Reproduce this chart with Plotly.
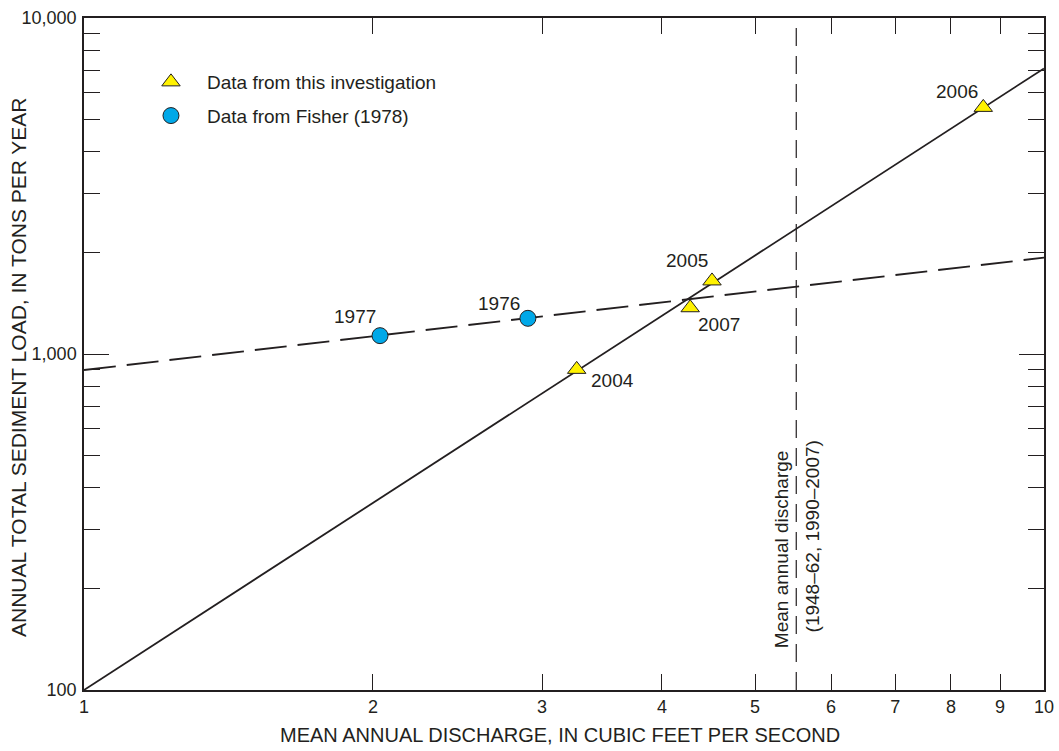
import numpy as np
import plotly.graph_objects as go

FONT = "Liberation Sans, Arial, sans-serif"
INK = "#231f20"

# Data from this investigation (triangles)
inv_years = ["2004", "2005", "2006", "2007"]
inv_q = [3.26, 4.51, 8.645, 4.28]
inv_load = [900, 1650, 5420, 1373]

# Data from Fisher (1978) (circles)
fis_years = ["1977", "1976"]
fis_q = [2.034, 2.90]
fis_load = [1134, 1277]

# Regression lines (endpoints)
solid_q = [1, 10]
solid_load = [100, 7080]
dashed_q = [1, 10]
dashed_load = [896, 1936]

# Mean annual discharge
mean_q = 5.52
y_range_vals = [100, 10000]
mean_text_lines = ["Mean annual discharge", "(1948–62, 1990–2007)"]
mean_text_y = [263, 287]

x_ticks = [1, 2, 3, 4, 5, 6, 7, 8, 9, 10]
y_major = [100, 1000, 10000]
y_major_text = ["100", "1,000", "10,000"]
y_minor = [200, 300, 400, 500, 600, 700, 800, 900,
           2000, 3000, 4000, 5000, 6000, 7000, 8000, 9000]

# label offsets (pixels) for year labels
inv_shift = [(36, -11), (-25, 20), (-26, 16), (29, -17)]
fis_shift = [(-25, 19), (-29, 15)]

fig = go.Figure()

fig.add_trace(go.Scatter(x=solid_q, y=solid_load, mode="lines",
                         line=dict(color=INK, width=1.8), showlegend=False, hoverinfo="skip"))
fig.add_trace(go.Scatter(x=dashed_q, y=dashed_load, mode="lines",
                         line=dict(color=INK, width=1.8, dash="32px,11px"), showlegend=False, hoverinfo="skip"))
fig.add_trace(go.Scatter(x=[mean_q, mean_q], y=y_range_vals, mode="lines",
                         line=dict(color=INK, width=1.2, dash="18px,10px"), showlegend=False, hoverinfo="skip"))

fig.add_trace(go.Scatter(x=inv_q, y=inv_load, mode="markers", name="Data from this investigation",
                         legendgroup="a",
                         marker=dict(symbol="triangle-up", size=16, color="#fff200",
                                     line=dict(color=INK, width=1))))
fig.add_trace(go.Scatter(x=fis_q, y=fis_load, mode="markers", name="Data from Fisher (1978)",
                         legendgroup="b",
                         marker=dict(symbol="circle", size=16, color="#00a8e8",
                                     line=dict(color=INK, width=1))))

lab_font = dict(family=FONT, size=19, color=INK)
for yr, q, ld, (dx, dy) in zip(inv_years, inv_q, inv_load, inv_shift):
    fig.add_annotation(x=np.log10(q), y=np.log10(ld), xref="x", yref="y", text=yr, showarrow=False,
                       xshift=dx, yshift=dy, font=lab_font)
for yr, q, ld, (dx, dy) in zip(fis_years, fis_q, fis_load, fis_shift):
    fig.add_annotation(x=np.log10(q), y=np.log10(ld), xref="x", yref="y", text=yr, showarrow=False,
                       xshift=dx, yshift=dy, font=lab_font)

for txt, yv, dx in zip(mean_text_lines, mean_text_y, [-14, 16]):
    fig.add_annotation(x=np.log10(mean_q), y=np.log10(yv), xref="x", yref="y", text=txt,
                       showarrow=False, textangle=-90, xshift=dx, font=lab_font)

fig.add_annotation(x=0.5, y=0, xref="paper", yref="paper", yanchor="middle",
                   text="MEAN ANNUAL DISCHARGE, IN CUBIC FEET PER SECOND", showarrow=False,
                   yshift=-45, xshift=-4, font=dict(family=FONT, size=20, color=INK))
fig.add_annotation(x=0, y=0.5, xref="paper", yref="paper", xanchor="center",
                   text="ANNUAL TOTAL SEDIMENT LOAD, IN TONS PER YEAR", showarrow=False,
                   textangle=-90, xshift=-66, yshift=-13, font=dict(family=FONT, size=21, color=INK))

fig.update_layout(
    width=1059, height=751,
    margin=dict(l=84, r=15, t=18, b=61, autoexpand=False),
    paper_bgcolor="white", plot_bgcolor="white",
    font=dict(family=FONT, color=INK),
    legend=dict(x=0.0531, y=0.933, xanchor="left", yanchor="top", itemwidth=62,
                font=dict(family=FONT, size=19, color=INK), bgcolor="rgba(0,0,0,0)",
                tracegroupgap=6),
    showlegend=True,
)
fig.update_xaxes(type="log", range=[0, 1], tickvals=x_ticks, ticktext=[str(v) for v in x_ticks],
                 ticks="inside", ticklen=16, tickwidth=1.2, tickcolor=INK, automargin=False,
                 mirror="ticks", showline=True, linecolor=INK, linewidth=1.5,
                 showgrid=False, zeroline=False, tickfont=dict(family=FONT, size=18, color=INK))
fig.update_yaxes(type="log", range=[2, 4], tickvals=y_major, ticktext=y_major_text,
                 ticks="inside", ticklen=25, tickwidth=1.2, tickcolor=INK, automargin=False,
                 minor=dict(tickvals=y_minor, ticks="inside", ticklen=16, tickwidth=1.2, tickcolor=INK),
                 mirror="ticks", showline=True, linecolor=INK, linewidth=1.5, ticklabelstandoff=2,
                 showgrid=False, zeroline=False, tickfont=dict(family=FONT, size=18, color=INK))

fig.write_html("out.html")
